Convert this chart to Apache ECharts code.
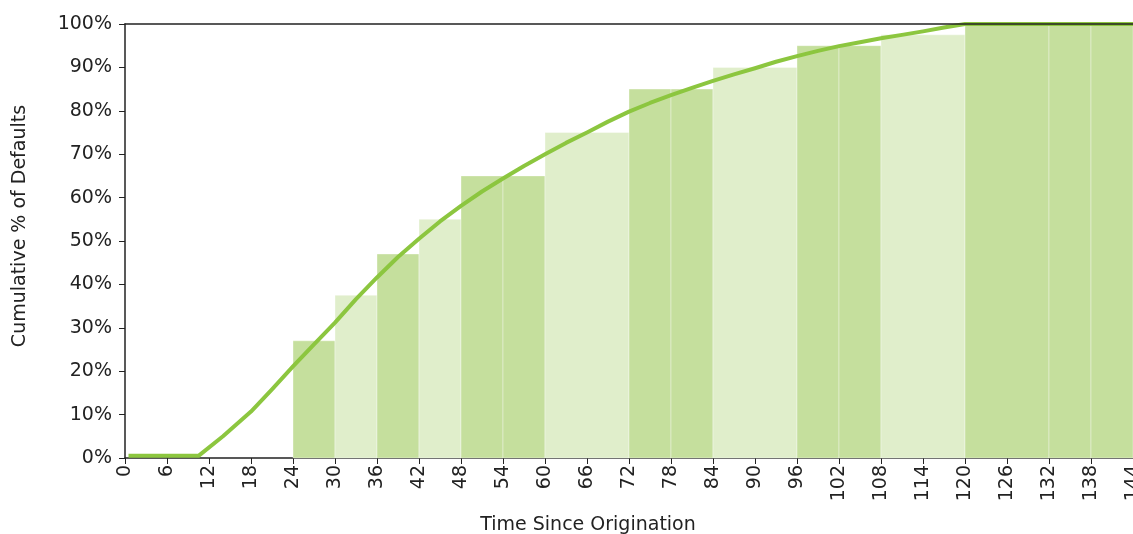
<!DOCTYPE html>
<html>
<head>
<meta charset="utf-8">
<script src="https://cdn.jsdelivr.net/npm/echarts@6/dist/echarts.min.js"></script>
<style>
  html, body { margin: 0; padding: 0; background: #fff; }
  #chart { width: 1133px; height: 534px; }
</style>
</head>
<body>
<div id="chart"></div>
<script>
// bars: start month, end month, cumulative %, shade (1 = darker green)
var binStart = [24, 30, 36, 42, 48, 54, 60, 72, 78, 84, 96, 102, 108, 120, 132, 138];
var binEnd   = [30, 36, 42, 48, 54, 60, 72, 78, 84, 96, 102, 108, 120, 132, 138, 144];
var binValue = [27, 37.5, 47, 55, 65, 65, 75, 85, 85, 90, 95, 95, 97.5, 100, 100, 100];
var binShade = [1, 0, 1, 0, 1, 1, 0, 1, 1, 0, 1, 1, 0, 1, 1, 1];

// fitted cumulative curve
var curveMonth = [0.5, 10.5, 14, 18, 21, 24, 27, 30, 33, 36, 39, 42, 45, 48, 51, 54, 57, 60, 63, 66, 69, 72, 75, 78, 81, 84, 87, 90, 93, 96, 99, 102, 105, 108, 111, 114, 117, 120, 144];
var curvePct   = [0.5, 0.5, 5.0, 10.7, 15.8, 21.1, 26.2, 31.2, 36.6, 41.6, 46.3, 50.5, 54.5, 58.1, 61.4, 64.4, 67.3, 70, 72.6, 75, 77.5, 79.8, 81.8, 83.6, 85.3, 86.9, 88.4, 89.8, 91.3, 92.6, 93.8, 94.9, 95.8, 96.7, 97.5, 98.3, 99.2, 100, 100];

var monthTicks = { min: 0, max: 144, interval: 6 };
var pctTicks = { min: 0, max: 100, interval: 10 };

var darkFill = '#c5df9d';
var lightFill = '#e0eecb';
var lineColor = '#8cc63f';
var font = 'DejaVu Sans, Verdana, sans-serif';

var barData = binStart.map(function (s, i) {
  return [s, binEnd[i], binValue[i], binShade[i]];
});
var curveData = curveMonth.map(function (m, i) { return [m, curvePct[i]]; });

var myChart = echarts.init(document.getElementById('chart'));
var option = {
  animation: false,
  grid: { left: 125, right: 0, top: 24, bottom: 76, outerBoundsMode: 'none', containLabel: false },
  xAxis: [{
    type: 'value',
    min: monthTicks.min, max: monthTicks.max, interval: monthTicks.interval,
    name: 'Time Since Origination',
    nameLocation: 'middle',
    nameGap: 58,
    nameTextStyle: { fontFamily: font, fontSize: 19, color: '#222', padding: [0, 82, 0, 0] },
    axisLine: { lineStyle: { color: '#222', width: 1.5 } },
    axisTick: { length: 6, lineStyle: { color: '#222' } },
    axisLabel: { rotate: 90, margin: 7, fontFamily: font, fontSize: 19, color: '#222', showMaxLabel: true },
    splitLine: { show: false }
  }, {
    type: 'value', position: 'top',
    min: monthTicks.min, max: monthTicks.max,
    z: 10,
    axisLine: { show: true, lineStyle: { color: '#222', width: 1.5 } },
    axisTick: { show: false }, axisLabel: { show: false }, splitLine: { show: false }
  }],
  yAxis: {
    type: 'value',
    min: pctTicks.min, max: pctTicks.max, interval: pctTicks.interval,
    name: 'Cumulative % of Defaults',
    nameLocation: 'middle',
    nameGap: 95,
    nameTextStyle: { fontFamily: font, fontSize: 19, color: '#222', padding: [0, 0, 0, 30] },
    axisLine: { show: true, lineStyle: { color: '#222', width: 1.5 } },
    axisTick: { show: true, length: 6, lineStyle: { color: '#222' } },
    axisLabel: { formatter: '{value}%', margin: 13, fontFamily: font, fontSize: 19, color: '#222' },
    splitLine: { show: false }
  },
  series: [{
    type: 'custom',
    data: barData,
    encode: { x: [0, 1], y: 2 },
    renderItem: function (params, api) {
      var p0 = api.coord([api.value(0), 0]);
      var p1 = api.coord([api.value(1), api.value(2)]);
      return {
        type: 'rect',
        shape: { x: p0[0], y: p1[1], width: p1[0] - p0[0], height: p0[1] - p1[1] },
        style: {
          fill: api.value(3) ? darkFill : lightFill,
          stroke: 'rgba(255,255,255,0.35)',
          lineWidth: 1
        }
      };
    }
  }, {
    type: 'line',
    data: curveData,
    clip: false,
    showSymbol: false,
    smooth: false,
    lineStyle: { color: lineColor, width: 4, join: 'round' },
    z: 3
  }]
};
myChart.setOption(option);
</script>
</body>
</html>
